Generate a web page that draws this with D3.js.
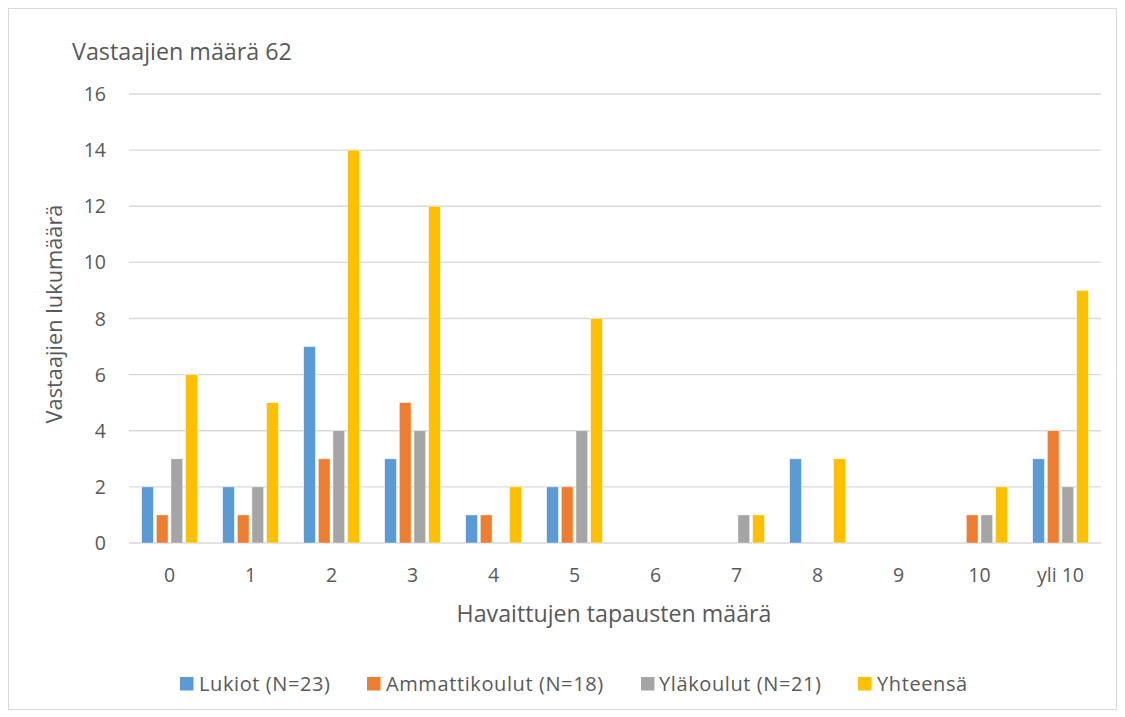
<!DOCTYPE html>
<html><head><meta charset="utf-8">
<script src="https://cdn.jsdelivr.net/npm/d3@7"></script>
<style>body{margin:0;background:#fff}svg{display:block}text{font-family:"Open Sans",sans-serif;fill:#595959}</style>
</head><body><svg id="c" width="1125" height="717"></svg>
<script>
const categories = ["0","1","2","3","4","5","6","7","8","9","10","yli 10"];
const seriesNames = ["Lukiot (N=23)","Ammattikoulut (N=18)","Yläkoulut (N=21)","Yhteensä"];
const lukiot =        [2,2,7,3,1,2,0,0,3,0,0,3];
const ammattikoulut = [1,1,3,5,1,2,0,0,0,0,1,4];
const ylakoulut =     [3,2,4,4,0,4,0,1,0,0,1,2];
const yhteensa =      [6,5,14,12,2,8,0,1,3,0,2,9];
const yTicks = [0,2,4,6,8,10,12,14,16];
const colors = ["#5B9BD5","#ED7D31","#A5A5A5","#FFC000"];
const seriesValues = [lukiot, ammattikoulut, ylakoulut, yhteensa];

const svg = d3.select("#c");
svg.append("rect").attr("x",8.5).attr("y",8.5).attr("width",1108).attr("height",701)
  .attr("fill","#fff").attr("stroke","#d9d9d9");

const L=129, R=1101, T=94, B=543;
const x0 = d3.scaleBand().domain(categories).range([L,R]).padding(0);
const x1 = d3.scaleBand().domain(d3.range(4)).range([12.7, 68.3]).paddingInner(0.2);
const y = d3.scaleLinear().domain([0,16]).range([B,T]);

svg.append("g").selectAll("line").data(yTicks).join("line")
  .attr("x1",L).attr("x2",R).attr("y1",d=>y(d)).attr("y2",d=>y(d))
  .attr("stroke","#d9d9d9").attr("stroke-width",1.3);

svg.append("g").selectAll("text").data(yTicks).join("text")
  .attr("x",106).attr("y",d=>y(d)+7).attr("text-anchor","end")
  .attr("font-size",19.5).text(d=>d);

const g = svg.append("g");
categories.forEach((c,i)=>{
  seriesValues.forEach((vals,s)=>{
    const v = vals[i];
    if(!v) return;
    g.append("rect")
      .attr("x", x0(c)+x1(s)).attr("width", x1.bandwidth())
      .attr("y", y(v)).attr("height", y(0)-y(v))
      .attr("fill", colors[s]).attr("stroke","#fff").attr("stroke-width",0.6).attr("stroke-opacity",0.7);
  });
});

svg.append("g").selectAll("text").data(categories).join("text")
  .attr("x",d=>x0(d)+x0.bandwidth()/2).attr("y",582).attr("text-anchor","middle")
  .attr("font-size",19.5).text(d=>d);

svg.append("text").attr("x",72).attr("y",60).attr("font-size",23.3).text("Vastaajien määrä 62");
svg.append("text").attr("x",(L+R)/2 - 1).attr("y",622).attr("text-anchor","middle").attr("font-size",23.2)
  .text("Havaittujen tapausten määrä");
svg.append("text").attr("transform","translate(61.5,314) rotate(-90)").attr("text-anchor","middle")
  .attr("font-size",21.8).text("Vastaajien lukumäärä");

const legX = [180, 367, 641, 858];
const legTX = [199, 386, 659, 877];
const lg = svg.append("g");
seriesNames.forEach((n,i)=>{
  lg.append("rect").attr("x",legX[i]).attr("y",677).attr("width",13.5).attr("height",13.5).attr("fill",colors[i]);
  lg.append("text").attr("x",legTX[i]).attr("y",691).attr("font-size",20).attr("letter-spacing",0.6).text(n);
});
</script></body></html>
